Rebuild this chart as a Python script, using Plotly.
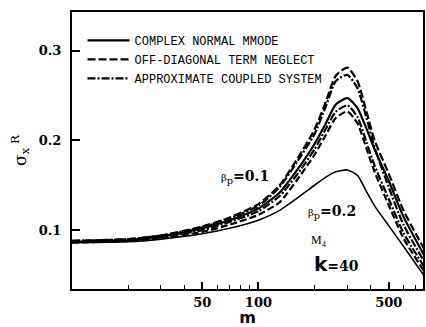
import plotly.graph_objects as go

m_vals = [10, 20, 30, 50, 70, 100, 130, 160, 200, 230, 260, 300, 340, 380, 420, 500, 600, 770]

off_diag_1 = [0.088, 0.090, 0.094, 0.104, 0.114, 0.129, 0.150, 0.178, 0.212, 0.243, 0.272, 0.281, 0.266, 0.232, 0.200, 0.163, 0.122, 0.080]
approx_1   = [0.088, 0.090, 0.094, 0.103, 0.113, 0.127, 0.148, 0.175, 0.207, 0.238, 0.266, 0.273, 0.258, 0.225, 0.192, 0.148, 0.106, 0.066]
complex_1  = [0.087, 0.089, 0.093, 0.102, 0.111, 0.124, 0.142, 0.166, 0.196, 0.219, 0.240, 0.247, 0.236, 0.213, 0.190, 0.155, 0.115, 0.073]
approx_2   = [0.087, 0.089, 0.092, 0.100, 0.109, 0.121, 0.138, 0.161, 0.190, 0.213, 0.232, 0.239, 0.226, 0.198, 0.172, 0.135, 0.097, 0.060]
off_diag_2 = [0.086, 0.088, 0.091, 0.098, 0.106, 0.117, 0.131, 0.155, 0.184, 0.206, 0.225, 0.232, 0.219, 0.191, 0.165, 0.128, 0.091, 0.055]
complex_2  = [0.086, 0.087, 0.090, 0.096, 0.102, 0.111, 0.122, 0.135, 0.150, 0.159, 0.165, 0.167, 0.161, 0.143, 0.127, 0.105, 0.082, 0.050]

legend_names = ["COMPLEX NORMAL MMODE", "OFF-DIAGONAL TERM NEGLECT", "APPROXIMATE COUPLED SYSTEM"]
x_ticks = [50, 100, 500]
x_minor = [20, 30, 40, 60, 70, 80, 90, 200, 300, 400, 600, 700]
y_ticks = [0.1, 0.2, 0.3]

fig = go.Figure()

series = [
    (complex_1, "solid", 2.2, legend_names[0], True, 1),
    (off_diag_1, "8px,3px", 2.2, legend_names[1], True, 2),
    (approx_1, "8px,2px,2px,2px", 2.2, legend_names[2], True, 3),
    (approx_2, "8px,2px,2px,2px", 2.2, None, False, 4),
    (off_diag_2, "7px,3px", 2.2, None, False, 5),
    (complex_2, "solid", 1.6, None, False, 6),
]
for ys, dash, w, name, show, rank in series:
    fig.add_trace(go.Scatter(
        x=m_vals, y=ys, mode="lines", name=name, showlegend=show, legendrank=rank,
        line=dict(color="black", width=w, dash=dash, shape="spline", smoothing=0.6),
    ))

tickfont = dict(family="DejaVu Serif", size=13, color="black", weight="bold")

fig.update_layout(
    width=426, height=327,
    margin=dict(l=72, r=1, t=12, b=37),
    paper_bgcolor="white", plot_bgcolor="white",
    showlegend=True,
    legend=dict(x=0.03, y=0.95, xanchor="left", yanchor="top",
                font=dict(family="Liberation Mono", size=12, color="black"),
                bgcolor="rgba(0,0,0,0)", itemwidth=42, tracegroupgap=0),
    xaxis=dict(type="log", range=[1, 2.883],
               tickvals=x_ticks, ticktext=[str(v) for v in x_ticks],
               ticks="inside", ticklen=7, tickwidth=1.5, tickcolor="black",
               minor=dict(tickvals=x_minor, ticks="inside", ticklen=4, tickwidth=1, tickcolor="black"),
               showgrid=False, zeroline=False,
               showline=True, linecolor="black", linewidth=2, mirror=True,
               tickfont=tickfont,
               title=dict(text="m", font=dict(family="DejaVu Sans", size=16, color="black", weight="bold"), standoff=5)),
    yaxis=dict(range=[0.0344, 0.343],
               tickvals=y_ticks, ticktext=["0.1", "0.2", "0.3"],
               ticks="inside", ticklen=8, tickwidth=1.5, tickcolor="black",
               showgrid=False, zeroline=False,
               showline=True, linecolor="black", linewidth=2, mirror=True,
               tickfont=tickfont, ticklabelstandoff=6,
               title=dict(text="σ<sub>x</sub><sup> R</sup>", font=dict(family="DejaVu Serif", size=17, color="black"), standoff=8)),
)

# annotations placed by left edge / vertical centre (paper fractions)
ann = [
    (0.418, 0.403, "<span style='font-size:10px'>β</span><sub>p</sub><b>=0.1</b>", 14, "DejaVu Serif"),
    (0.668, 0.277, "<span style='font-size:10px'>β</span><sub>p</sub><b>=0.2</b>", 14, "DejaVu Serif"),
    (0.675, 0.173, "M<sub>4</sub>", 12, "Liberation Serif"),
    (0.683, 0.090, "<span style='font-size:20px;font-family:DejaVu Sans'><b>k</b></span><b>=40</b>", 14, "DejaVu Serif"),
]
for x, y, t, s, fam in ann:
    fig.add_annotation(x=x, y=y, xref="paper", yref="paper", text=t, showarrow=False,
                       xanchor="left", yanchor="middle",
                       font=dict(family=fam, size=s, color="black"))

fig.write_html("out.html")
